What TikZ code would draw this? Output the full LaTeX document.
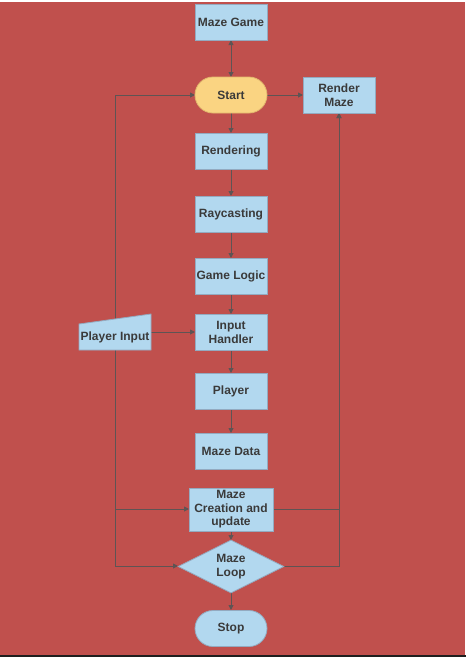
\documentclass[tikz,border=0pt]{standalone}
\usepackage{fontspec}
\setmainfont{Liberation Sans}
\usepackage{xcolor}
\usepackage{tikz}
\usetikzlibrary{shapes.geometric,arrows.meta}
\definecolor{bg}{HTML}{C0504D}
\definecolor{boxfill}{HTML}{B2D8EF}
\definecolor{boxline}{HTML}{93AAC0}
\definecolor{startfill}{HTML}{FAD482}
\definecolor{startline}{HTML}{E2B86E}
\definecolor{linkc}{HTML}{5E5454}
\definecolor{txt}{HTML}{3A3A3A}
\definecolor{footer}{HTML}{1E1E1E}
\tikzset{
  base/.style={draw=boxline, line width=0.8pt, fill=boxfill, text=txt,
    font=\fontsize{12}{13.5}\selectfont\bfseries, align=center, inner sep=0pt},
  procbox/.style={base, rectangle, minimum width=72pt, minimum height=36pt},
  termbox/.style={base, rectangle, rounded corners=18pt, minimum width=72pt, minimum height=36pt},
  startbox/.style={termbox, fill=startfill, draw=startline},
  loopbox/.style={base, diamond, aspect=2, minimum width=106pt, minimum height=53pt},
  link/.style={draw=linkc, line width=0.9pt, -{Triangle[length=5pt,width=5pt]}}
}
\begin{document}
\begin{tikzpicture}[x=1pt,y=-1pt]
  \useasboundingbox (0,0) rectangle (466,657);
  \fill[bg] (0,0) rectangle (466,657);
  \fill[white] (0,0) rectangle (466,2);
  \fill[white] (465,0) rectangle (466,657);
  \fill[footer] (0,654.5) rectangle (466,657);

  % manual input shape
  \coordinate (pinT) at (115,319);
  \coordinate (pinB) at (115,350);
  \coordinate (pinR) at (151,332);

  % connectors first, boxes on top
  \coordinate (gameS) at (231,40);
  \coordinate (startN) at (231,77);
  \draw[link, {Triangle[length=5pt,width=5pt]}-{Triangle[length=5pt,width=5pt]}] (gameS) -- (startN);
  \draw[link] (267,95) -- (303,95);
  \draw[link] (pinT) |- (195,95);
  \draw[link] (pinB) |- (189,509);
  \draw[link] (pinB) |- (178,566);
  \draw[link] (273,509) -| (339,113);
  \draw[link] (284,566) -| (339,113);
  \draw[link] (231,113) -- (231,133);
  \draw[link] (231,169) -- (231,196);
  \draw[link] (231,232) -- (231,258);
  \draw[link] (231,295) -- (231,314);
  \draw[link] (pinR) -- (195,332);
  \draw[link] (231,351) -- (231,373);
  \draw[link] (231,410) -- (231,433);
  \draw[link] (231,531) -- (231,540);
  \draw[link] (231,593) -- (231,610);

  \node[procbox] (game) at (231,22) {Maze Game};
  \node[startbox] (start) at (231,95) {Start};
  \node[procbox] (render) at (339,95) {Render\\Maze};
  \node[procbox] (rend) at (231,151) {Rendering};
  \node[procbox] (ray) at (231,214) {Raycasting};
  \node[procbox] (logic) at (231,276.5) {Game Logic};
  \node[procbox] (handler) at (231,332.5) {Input\\Handler};
  \node[procbox] (player) at (231,391.5) {Player};
  \node[procbox] (data) at (231,451.5) {Maze Data};
  \node[procbox, minimum width=84pt, minimum height=43pt] (create) at (231,509.5) {Maze\\Creation and\\update};
  \node[loopbox] (loop) at (231,566.5) {Maze\\Loop};
  \node[termbox] (stop) at (231,628.5) {Stop};

  \draw[base] (79,324) -- (151,314) -- (151,350) -- (79,350) -- cycle;
  \node[text=txt, font=\fontsize{12}{13.5}\selectfont\bfseries] (pin) at (115,337) {Player Input};
\end{tikzpicture}
\end{document}
